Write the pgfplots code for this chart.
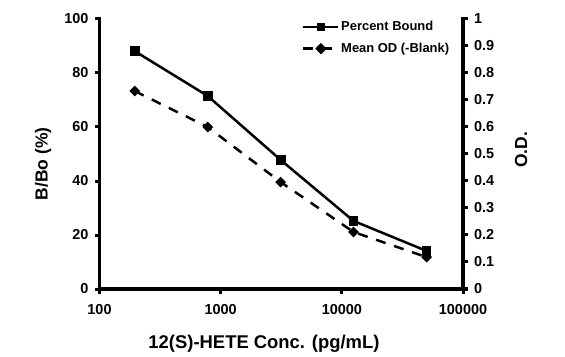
\documentclass[border=0pt]{standalone}
\usepackage{pgfplots}
\pgfplotsset{compat=1.18}
\usepackage{fontspec}
\setmainfont{Liberation Sans}
\begin{document}
\begin{tikzpicture}
\useasboundingbox (-99.5bp,-68bp) rectangle (465.5bp,289bp);
\begin{axis}[
  at={(0,0)}, anchor=south west, clip=false,
  scale only axis, width=363.5bp, height=270bp,
  xmode=log, xmin=100, xmax=100000,
  axis line style={line width=3.3bp},
  major tick length=4.5bp,
  tick style={line width=3bp, black},
  tick align=outside,
  /pgf/number format/assume math mode=true,
  ticklabel style={font=\bfseries\fontsize{14.5}{17}\selectfont},
  axis y line*=left, axis x line*=bottom,
  ymin=0, ymax=100, ytick={0,20,...,100},
  xtick={100,1000,10000,100000},
  xticklabels={100,1000,10000,100000},
  xminorticks=false,
  xticklabel style={yshift=-7bp},
  yticklabel style={xshift=-3bp},
  xlabel={12(S)-HETE Conc. (pg/mL)},
  ylabel={B/Bo (\%)},
  xlabel style={font=\bfseries\fontsize{18.5}{20}\selectfont, at={(rel axis cs:0.4525,0)}, anchor=base, yshift=-59bp},
  ylabel style={font=\bfseries\fontsize{17.5}{20}\selectfont, at={(rel axis cs:0,0.463)}, anchor=center, rotate=0, yshift=56.5bp},
  legend style={draw=none, fill=none, at={(rel axis cs:0.553,1.003)}, anchor=north west,
     font=\bfseries\fontsize{13}{15}\selectfont, row sep=7bp, inner sep=1bp,
     /tikz/every even column/.append style={column sep=0bp}},
  legend image code/.code={
     \draw[#1] (0bp,0bp) -- (35bp,0bp);
     \draw[#1, solid, mark size=3.5bp] plot coordinates {(18bp,0bp)};
  },
  legend cell align=left,
]
\draw[line width=3.3bp, line cap=rect] (rel axis cs:0,1) -- (rel axis cs:0,0) -- (rel axis cs:1,0);
\pgfplotsinvokeforeach{100,1000,10000,100000}{
  \draw[line width=3bp] (axis cs:#1,0) -- ++(0bp,-4.5bp);
}
\pgfplotsinvokeforeach{0,20,40,60,80,100}{
  \draw[line width=3bp] (axis cs:100,#1) -- ++(-4.5bp,0bp);
}
\addplot[black, line width=2.5bp, mark=square*, mark size=4.4bp, mark options={solid, line width=1bp}]
 coordinates {(195.3,88.1) (781.25,71.5) (3125,47.8) (12500,25.2) (50000,14.1)};
\addlegendentry{Percent Bound}
\addlegendimage{black, line width=2.5bp, dash pattern=on 10bp off 9bp, mark=square*, mark size=3.3bp, mark options={solid, rotate=45, line width=1bp}}
\addlegendentry{Mean OD (-Blank)}
\end{axis}
\begin{axis}[
  at={(0,0)}, anchor=south west, clip=false,
  scale only axis, width=363.5bp, height=270bp,
  xmode=log, xmin=100, xmax=100000,
  axis line style={line width=3.3bp},
  major tick length=4.5bp,
  tick style={line width=3bp, black},
  tick align=outside,
  /pgf/number format/assume math mode=true,
  ticklabel style={font=\bfseries\fontsize{14.5}{17}\selectfont},
  axis y line*=right, axis x line=none,
  ymin=0, ymax=1, ytick={0,0.1,...,1},
  yticklabels={0,0.1,0.2,0.3,0.4,0.5,0.6,0.7,0.8,0.9,1},
  yticklabel style={xshift=3bp},
  ylabel={O.D.},
  ylabel style={font=\bfseries\fontsize{17.5}{20}\selectfont, at={(rel axis cs:1,0.515)}, anchor=center, yshift=-58bp},
]
\draw[line width=3.3bp, line cap=rect] (rel axis cs:1,0) -- (rel axis cs:1,1);
\pgfplotsinvokeforeach{0,0.1,0.2,0.3,0.4,0.5,0.6,0.7,0.8,0.9,1}{
  \draw[line width=3bp] (axis cs:100000,#1) -- ++(4.5bp,0bp);
}
\addplot[black, line width=2.5bp, dash pattern=on 10bp off 9bp, mark=square*, mark size=3.3bp, mark options={solid, rotate=45, line width=1bp}]
 coordinates {(195.3,0.733) (781.25,0.600) (3125,0.396) (12500,0.211) (50000,0.118)};
\end{axis}
\end{tikzpicture}
\end{document}
